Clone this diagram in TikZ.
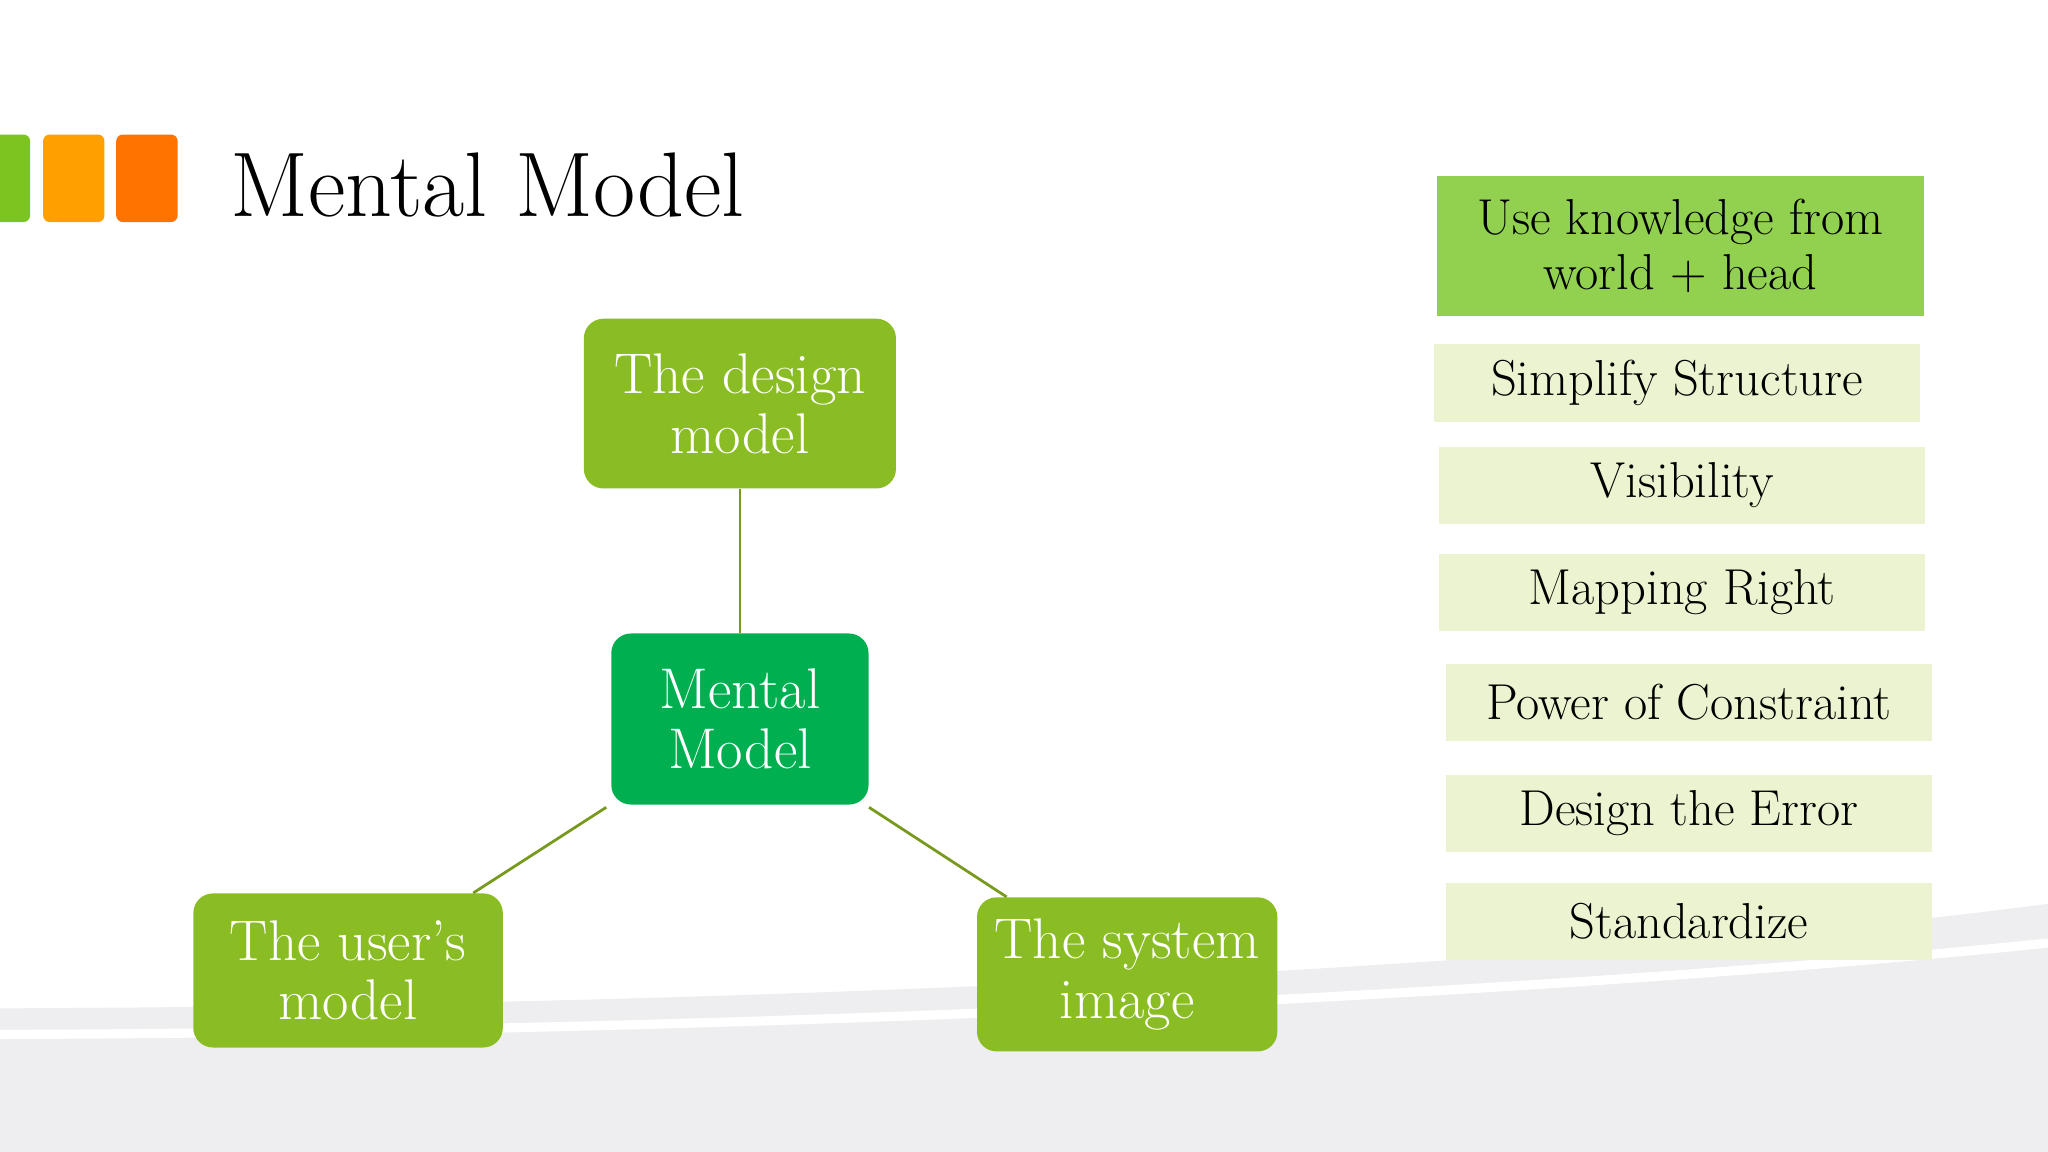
\documentclass[tikz,border=0pt]{standalone}
\begin{document}
\begin{tikzpicture}[x=0.02cm,y=-0.02cm,
  gbox/.style={draw=none,fill=boxg,rounded corners=0.3cm,text=white,font=\fontsize{25}{26}\selectfont,align=center,inner sep=0pt},
  lbox/.style={draw=none,fill=lightg,font=\fontsize{22}{24}\selectfont,align=center,inner sep=0pt},
  conn/.style={draw=lineg,line width=1.2pt}]
\definecolor{boxg}{HTML}{8ABD24}
\definecolor{mg}{HTML}{00B050}
\definecolor{lightg}{HTML}{EBF3D0}
\definecolor{topg}{HTML}{92D050}
\definecolor{lineg}{HTML}{77991C}
\definecolor{bgg}{HTML}{EEEEF0}
\useasboundingbox (0,0) rectangle (1568,882);
\fill[white] (0,0) rectangle (1568,882);
\fill[bgg] (0,772) .. controls (600,770) and (1200,740) .. (1568,692) -- (1568,882) -- (0,882) -- cycle;
\draw[white,line width=4pt] (0,792) .. controls (600,790) and (1200,760) .. (1568,722);
% squares
\fill[boxg!90!green, rounded corners=0.1cm] (-10,103) rectangle (23,170);
\fill[orange!75!yellow, rounded corners=0.1cm] (33,103) rectangle (80,170);
\fill[orange!90!red, rounded corners=0.1cm] (89,103) rectangle (136,170);
\node[anchor=west,font=\fontsize{40}{42}\selectfont] (title) at (170,142) {Mental Model};
% nodes
\node[gbox,minimum width=4.78cm,minimum height=2.6cm] (design) at (566.5,309) {The design\\model};
\node[gbox,fill=mg,minimum width=3.94cm,minimum height=2.62cm] (mental) at (566.5,550.5) {Mental\\Model};
\node[gbox,minimum width=4.74cm,minimum height=2.36cm] (user) at (266.5,743) {The user’s\\model};
\node[gbox,minimum width=4.6cm,minimum height=2.36cm] (system) at (863,746) {The system\\image};
\draw[conn] (design.south) -- (mental.north);
\draw[conn] ([xshift=-2pt,yshift=-1pt]mental.south west) -- ([xshift=-0.46cm]user.north east);
\draw[conn] ([yshift=-1pt]mental.south east) -- ([xshift=0.46cm]system.north west);
% right list
\node[lbox,fill=topg,minimum width=7.46cm,minimum height=2.14cm] (k) at (1286.5,188.5) {Use knowledge from\\world + head};
\node[lbox,minimum width=7.44cm,minimum height=1.2cm] (s) at (1284,293) {Simplify Structure};
\node[lbox,minimum width=7.44cm,minimum height=1.18cm] (v) at (1288,371.5) {Visibility};
\node[lbox,minimum width=7.44cm,minimum height=1.18cm] (m) at (1288,453.5) {Mapping Right};
\node[lbox,minimum width=7.44cm,minimum height=1.18cm] (p) at (1293,537.5) {Power of Constraint};
\node[lbox,minimum width=7.44cm,minimum height=1.18cm] (d) at (1293,622.5) {Design the Error};
\node[lbox,minimum width=7.44cm,minimum height=1.18cm] (st) at (1293,705.5) {Standardize};
\end{tikzpicture}
\end{document}
